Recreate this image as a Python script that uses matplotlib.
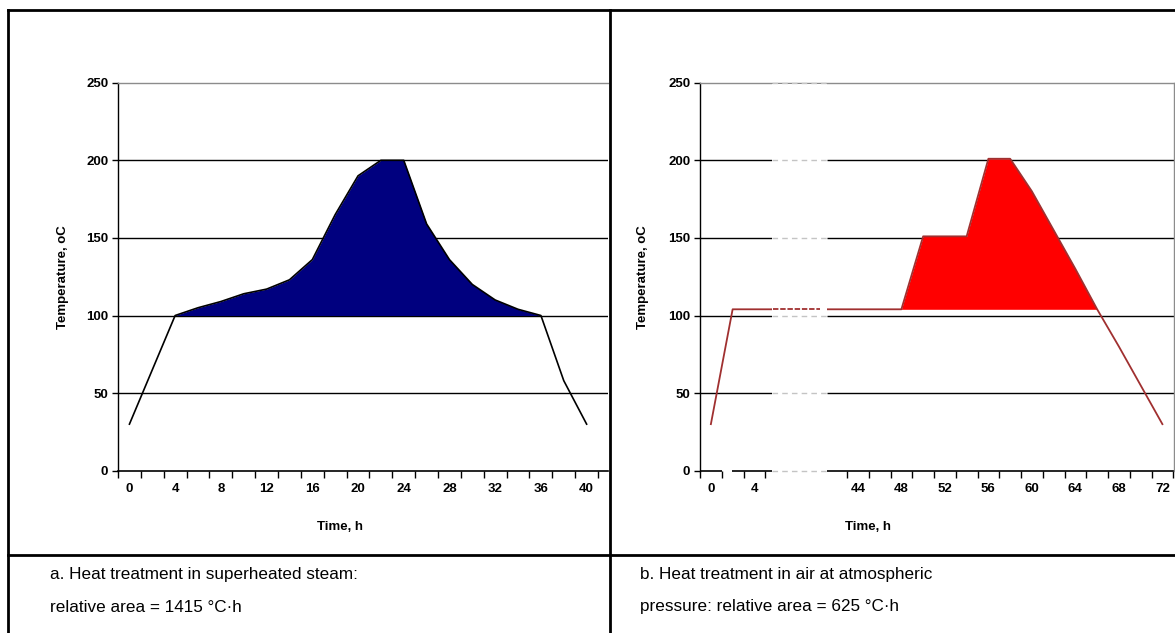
import numpy as np
import matplotlib
matplotlib.use('Agg')
import matplotlib.pyplot as plt
from matplotlib.lines import Line2D

# a. superheated steam
hours_a = [0, 2, 4, 6, 8, 10, 12, 14, 16, 18, 20, 22, 24, 26, 28, 30, 32, 34, 36, 38, 40]
temp_a = [30, 65, 100, 105, 109, 114, 117, 123, 136, 165, 190, 200, 200, 159, 136, 120, 110, 104, 100, 58, 30]
base_a = 100

# b. air at atmospheric pressure (time axis broken between 4 h and 44 h)
hours_b = [0, 2, 4, 44, 46, 48, 50, 52, 54, 56, 58, 60, 62, 64, 66, 68, 70, 72]
temp_b = [30, 104, 104, 104, 104, 104, 151, 151, 151, 201, 201, 180, 155, 130, 104, 80, 55, 30]
base_b = 104

yticks = [0, 50, 100, 150, 200, 250]
xlabels_a = ['0', '4', '8', '12', '16', '20', '24', '28', '32', '36', '40']
xlabels_b = ['0', '4', '44', '48', '52', '56', '60', '64', '68', '72']

captions = [
    ("a. Heat treatment in superheated steam:", "relative area = 1415 \u00b0C\u00b7h"),
    ("b. Heat treatment in air at atmospheric", "pressure: relative area = 625 \u00b0C\u00b7h"),
]

plt.rcParams['font.family'] = ['Liberation Sans', 'DejaVu Sans']
W, H = 1175, 633
fig = plt.figure(figsize=(W / 100, H / 100), dpi=100)
fig.patch.set_facecolor('white')

bold = dict(fontsize=9.5, fontweight='bold')


def style_axes(ax):
    ax.set_ylim(0, 250)
    ax.set_yticks(yticks)
    ax.set_yticklabels([str(v) for v in yticks], **bold)
    ax.tick_params(axis='y', length=4, width=1, pad=3, direction='out')
    ax.tick_params(axis='x', length=5, width=1, pad=9, direction='out')
    ax.tick_params(axis='x', which='minor', length=5, width=1)
    ax.spines['left'].set_color('black')
    ax.spines['top'].set_color('#8c8c8c')
    ax.spines['right'].set_color('#8c8c8c')
    ax.spines['bottom'].set_visible(False)
    for s in ax.spines.values():
        s.set_linewidth(1)
    ax.set_ylabel('Temperature, oC', **bold)
    ax.set_xlabel('Time, h', **bold)


# ---------- chart a ----------
ax1 = fig.add_axes([118 / W, 1 - 470.7 / H, 490 / W, 388 / H])
pos_a = np.array(hours_a) / 2
ta = np.array(hours_a)
ya = np.array(temp_a)
ax1.set_xlim(-0.5, -0.5 + 490 / 22.86)
style_axes(ax1)
ax1.spines['right'].set_visible(False)
for v in yticks[1:-1]:
    ax1.axhline(v, color='black', lw=1, zorder=1)
ax1.axhline(0, color='black', lw=1.2, zorder=2, clip_on=False)
ax1.fill_between(pos_a, ya, base_a, where=(ta >= 4) & (ta <= 36), color='#00007f', lw=0, zorder=3)
ax1.plot(pos_a, ya, color='black', lw=1.2, zorder=4)
ax1.set_xticks(np.arange(0, 21, 2))
ax1.set_xticklabels(xlabels_a, **bold)
ax1.set_xticks(np.arange(-0.5, 21, 1), minor=True)
ax1.tick_params(axis='x', which='major', length=0)
ax1.yaxis.set_label_coords(-0.1, 0.5)
ax1.xaxis.set_label_coords(0.453, -0.13)

# ---------- chart b ----------
ax2 = fig.add_axes([700 / W, 1 - 470.7 / H, 474 / W, 388 / H])
tb = np.array(hours_b)
yb = np.array(temp_b)
off44 = 6.76  # category position of 44 h after the axis break
pos_b = np.where(tb <= 4, tb / 2, (tb - 44) / 2 + off44)
ax2.set_xlim(-0.5, -0.5 + 474 / 21.75)
style_axes(ax2)
brk0, brk1 = 2.81, 5.34
for v in yticks[1:-1]:
    ax2.hlines(v, -0.5, brk0, color='black', lw=1, zorder=1)
    ax2.hlines(v, brk1, 30, color='black', lw=1, zorder=1)
for v in yticks:
    ax2.hlines(v, brk0, brk1, color='#c4c4c4', lw=1, linestyles=(0, (4, 3)), zorder=6, clip_on=False)
ax2.hlines(0, -0.5, 0.5, color='black', lw=1.2, zorder=2, clip_on=False)
ax2.hlines(0, 0.96, brk0, color='black', lw=1.2, zorder=2, clip_on=False)
ax2.hlines(0, brk1, 30, color='black', lw=1.2, zorder=2, clip_on=False)
ax2.fill_between(pos_b, yb, base_b, where=(tb >= 48) & (tb <= 66), color='#ff0000', lw=0, zorder=3)
ax2.plot(pos_b, yb, color='#a03030', lw=1.3, zorder=4)
ax2.axvspan(brk0, brk1, ymin=0.004, ymax=0.996, color='white', lw=0, zorder=5)
ax2.hlines(base_b, brk0 + 0.05, brk1 - 0.3, color='#a03030', lw=1.3, linestyles=(0, (3, 1)), zorder=7)
ax2.set_xticks([0, 2] + list(np.arange(off44, 21, 2)))
ax2.set_xticklabels(xlabels_b, **bold)
ax2.set_xticks([-0.5, 0.5, 1.5, 2.5] + list(np.arange(off44 - 0.5, 21.5, 1)), minor=True)
ax2.tick_params(axis='x', which='major', length=0)
ax2.yaxis.set_label_coords(-0.108, 0.5)
ax2.xaxis.set_label_coords(0.354, -0.13)

# ---------- table frame ----------
def fline(x0, y0, x1, y1, lw=2):
    fig.add_artist(Line2D([x0 / W, x1 / W], [1 - y0 / H, 1 - y1 / H], color='black', lw=lw))

fline(8, 10, W, 10)
fline(8, 10, 8, H)
fline(610, 10, 610, H)
fline(8, 555, W, 555)

for x0, (l1, l2) in zip([50, 640], captions):
    fig.text(x0 / W, 1 - 575 / H, l1, fontsize=12.3, va='center', ha='left')
    fig.text(x0 / W, 1 - 607 / H, l2, fontsize=12.3, va='center', ha='left')

fig.savefig('out.png', dpi=100, facecolor='white')
